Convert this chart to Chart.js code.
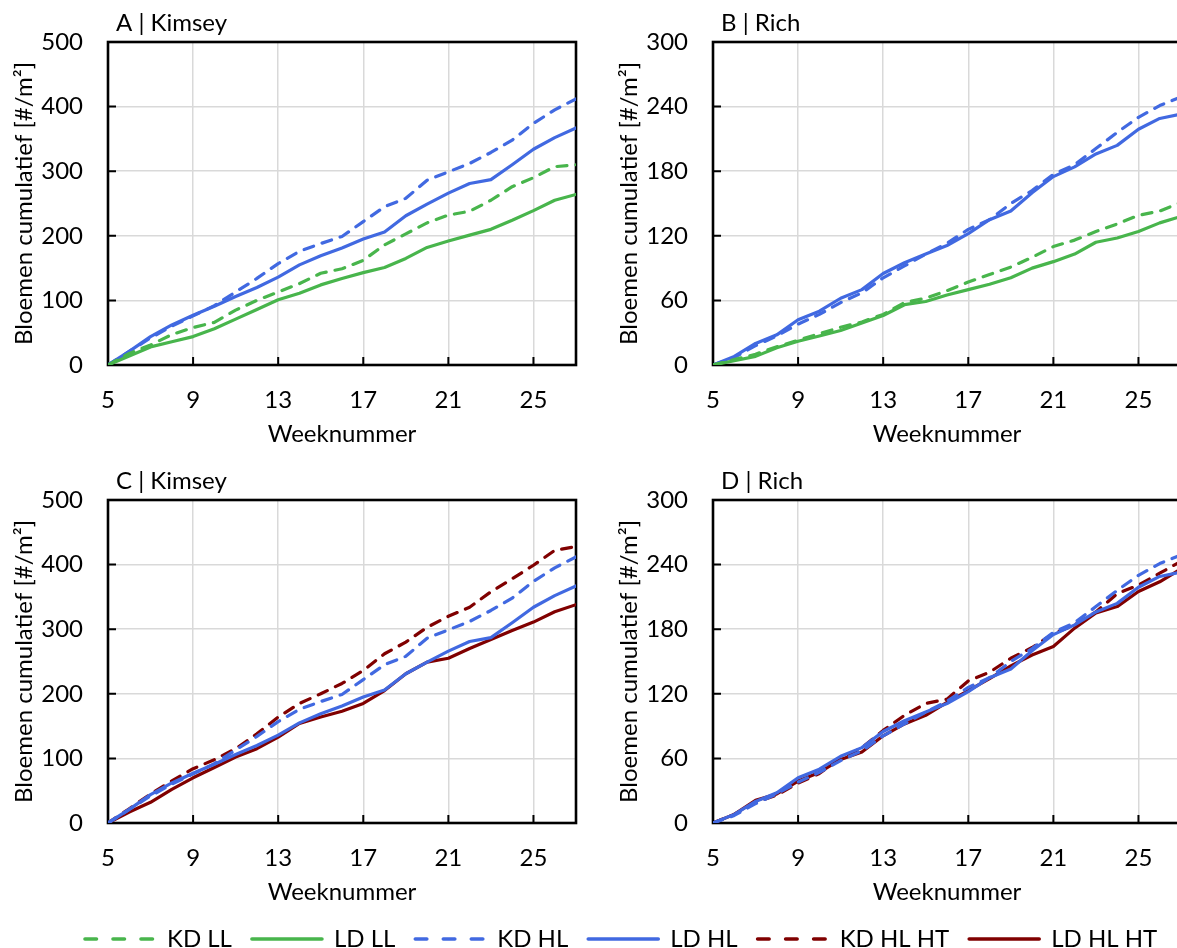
<!DOCTYPE html>
<html>
<head>
<meta charset="utf-8">
<script src="https://cdn.jsdelivr.net/npm/chart.js@4.4.1/dist/chart.umd.min.js"></script>
<style>
  html, body { margin: 0; padding: 0; background: #fff; overflow: hidden; width: 1177px; height: 948px; }
  canvas { position: absolute; }
</style>
</head>
<body>
<canvas id="pA" width="600" height="458" style="left:0;top:0"></canvas>
<canvas id="pB" width="600" height="458" style="left:605px;top:0"></canvas>
<canvas id="pC" width="600" height="458" style="left:0;top:458px"></canvas>
<canvas id="pD" width="600" height="458" style="left:605px;top:458px"></canvas>
<canvas id="legend" width="1300" height="100" style="left:65px;top:907px"></canvas>
<script>
// Week numbers and axis ticks
const weeks = [5, 6, 7, 8, 9, 10, 11, 12, 13, 14, 15, 16, 17, 18, 19, 20, 21, 22, 23, 24, 25, 26, 27];
const weekTicks = [5, 9, 13, 17, 21, 25];
const kimseyTicks = [0, 100, 200, 300, 400, 500];
const richTicks = [0, 60, 120, 180, 240, 300];

// Kimsey: cumulative flowers per m²
const kimseyKD_LL   = [0, 18, 31, 47, 58, 66, 85, 100, 113, 126, 142, 149, 162, 186, 203, 220, 232, 238, 255, 276, 290, 307, 310];
const kimseyLD_LL   = [0, 14, 28, 36, 44, 56, 71, 86, 101, 111, 124, 134, 143, 151, 165, 182, 192, 201, 210, 224, 239, 255, 264];
const kimseyKD_HL   = [0, 21, 42, 60, 76, 92, 113, 134, 157, 176, 188, 199, 222, 245, 258, 286, 299, 312, 329, 348, 374, 395, 412];
const kimseyLD_HL   = [0, 21, 44, 62, 77, 91, 106, 120, 136, 155, 169, 181, 195, 206, 231, 249, 266, 281, 287, 310, 334, 352, 367];
const kimseyKD_HLHT = [0, 22, 45, 65, 84, 98, 115, 138, 164, 185, 200, 216, 236, 262, 280, 303, 320, 334, 358, 378, 399, 422, 428];
const kimseyLD_HLHT = [0, 17, 32, 52, 70, 86, 102, 115, 133, 154, 164, 173, 185, 205, 231, 249, 255, 270, 284, 298, 311, 327, 338];

// Rich: cumulative flowers per m²
const richKD_LL   = [0, 5, 10, 17, 23, 29, 35, 40, 47, 58, 62, 69, 77, 84, 91, 100, 110, 116, 124, 131, 139, 143, 151];
const richLD_LL   = [0, 4, 8, 16, 22, 27, 32, 39, 46, 56, 59, 65, 70, 75, 81, 90, 96, 103, 114, 118, 124, 132, 138];
const richKD_HL   = [0, 7, 18, 27, 38, 47, 58, 67, 81, 92, 103, 113, 126, 135, 150, 162, 177, 186, 201, 216, 230, 241, 249];
const richLD_HL   = [0, 8, 20, 28, 42, 50, 62, 70, 85, 95, 103, 111, 122, 135, 143, 160, 175, 184, 196, 204, 219, 229, 233];
const richKD_HLHT = [0, 8, 19, 26, 37, 46, 60, 70, 86, 100, 111, 115, 132, 140, 153, 163, 176, 184, 196, 213, 221, 232, 243];
const richLD_HLHT = [0, 8, 21, 27, 39, 47, 59, 66, 81, 92, 100, 112, 123, 134, 146, 156, 164, 181, 195, 201, 215, 224, 236];

const GREEN = '#48b54c';
const BLUE = '#4169e1';
const RED = '#800000';
const DASH = [10, 9];
const FONT = { family: 'Lato, "Open Sans", sans-serif', size: 24 };

Chart.defaults.font.family = FONT.family;
Chart.defaults.font.size = FONT.size;
Chart.defaults.color = '#000';

const seriesStyle = {
  'KD LL':    { color: GREEN, dashed: true },
  'LD LL':    { color: GREEN, dashed: false },
  'KD HL':    { color: BLUE,  dashed: true },
  'LD HL':    { color: BLUE,  dashed: false },
  'KD HL HT': { color: RED,   dashed: true },
  'LD HL HT': { color: RED,   dashed: false }
};

function series(label, values) {
  const s = seriesStyle[label];
  return {
    label,
    data: weeks.map((w, i) => ({ x: w, y: values[i] })),
    borderColor: s.color,
    backgroundColor: s.color,
    borderWidth: 3.2,
    borderDash: s.dashed ? DASH : [],
    borderCapStyle: 'round',
    borderJoinStyle: 'round',
    pointRadius: 0,
    tension: 0,
    fill: false
  };
}

// Plot frame, inward tick marks and the panel caption
const framePlugin = {
  id: 'frame',
  beforeDatasetsDraw(chart) {
    const { ctx, chartArea: a, scales: { x, y } } = chart;
    ctx.save();
    ctx.strokeStyle = '#000';
    ctx.lineWidth = 2;
    ctx.beginPath();
    y.ticks.forEach(t => {
      const py = y.getPixelForValue(t.value);
      ctx.moveTo(a.left, py); ctx.lineTo(a.left + 8, py);
    });
    x.ticks.forEach(t => {
      const px = x.getPixelForValue(t.value);
      ctx.moveTo(px, a.bottom); ctx.lineTo(px, a.bottom - 8);
    });
    ctx.stroke();
    ctx.lineWidth = 2.6;
    ctx.strokeRect(a.left, a.top, a.right - a.left, a.bottom - a.top);
    ctx.restore();
  },
  afterDraw(chart, args, opts) {
    const { ctx, chartArea: a } = chart;
    ctx.save();
    ctx.font = `${FONT.size}px ${FONT.family}`;
    ctx.fillStyle = '#000';
    ctx.textBaseline = 'alphabetic';
    ctx.textAlign = 'left';
    ctx.fillText(opts.text, a.left + 8, a.top - 11);
    ctx.restore();
  }
};

function panel(id, caption, yTicks, datasets) {
  new Chart(document.getElementById(id), {
    type: 'line',
    data: { datasets },
    plugins: [framePlugin],
    options: {
      responsive: false,
      animation: false,
      layout: { padding: { top: 42, right: 24, bottom: 0, left: 0 } },
      plugins: {
        legend: { display: false },
        tooltip: { enabled: false },
        frame: { text: caption }
      },
      scales: {
        x: {
          type: 'linear',
          min: weekTicks[0],
          max: weeks[weeks.length - 1],
          afterBuildTicks: s => { s.ticks = weekTicks.map(v => ({ value: v })); },
          afterFit: s => { s.height = 93; },
          grid: { color: '#d9d9d9', lineWidth: 1.5, drawTicks: false },
          border: { display: false },
          ticks: { padding: 21, maxRotation: 0, autoSkip: false, color: '#000' },
          title: { display: true, text: 'Weeknummer', color: '#000', padding: { top: 0, bottom: 9 } }
        },
        y: {
          type: 'linear',
          min: yTicks[0],
          max: yTicks[yTicks.length - 1],
          afterBuildTicks: s => { s.ticks = yTicks.map(v => ({ value: v })); },
          afterFit: s => { s.width = 108; },
          grid: { color: '#d9d9d9', lineWidth: 1.5, drawTicks: false },
          border: { display: false },
          ticks: { padding: 25, color: '#000' },
          title: { display: true, text: 'Bloemen cumulatief [#/m²]', color: '#000', padding: { top: 10, bottom: 0 } }
        }
      }
    }
  });
}

panel('pA', 'A | Kimsey', kimseyTicks, [
  series('KD LL', kimseyKD_LL),
  series('LD LL', kimseyLD_LL),
  series('KD HL', kimseyKD_HL),
  series('LD HL', kimseyLD_HL)
]);
panel('pB', 'B | Rich', richTicks, [
  series('KD LL', richKD_LL),
  series('LD LL', richLD_LL),
  series('KD HL', richKD_HL),
  series('LD HL', richLD_HL)
]);
panel('pC', 'C | Kimsey', kimseyTicks, [
  series('KD HL', kimseyKD_HL),
  series('LD HL', kimseyLD_HL),
  series('KD HL HT', kimseyKD_HLHT),
  series('LD HL HT', kimseyLD_HLHT)
]);
panel('pD', 'D | Rich', richTicks, [
  series('KD HL', richKD_HL),
  series('LD HL', richLD_HL),
  series('KD HL HT', richKD_HLHT),
  series('LD HL HT', richLD_HLHT)
]);

// Shared legend for all four panels
const legendLabels = ['KD LL', 'LD LL', 'KD HL', 'LD HL', 'KD HL HT', 'LD HL HT'];
new Chart(document.getElementById('legend'), {
  type: 'line',
  data: { datasets: legendLabels.map(l => ({ label: l, data: [] })) },
  options: {
    responsive: false,
    animation: false,
    layout: { padding: 0 },
    scales: { x: { display: false }, y: { display: false } },
    plugins: {
      tooltip: { enabled: false },
      legend: {
        display: true,
        position: 'top',
        align: 'start',
        labels: {
          usePointStyle: true,
          pointStyleWidth: 70,
          padding: 20,
          color: '#000',
          font: FONT,
          generateLabels: () => legendLabels.map((l, i) => {
            const s = seriesStyle[l];
            return {
              text: l,
              datasetIndex: i,
              pointStyle: 'line',
              strokeStyle: s.color,
              fillStyle: s.color,
              lineWidth: 3.6,
              lineCap: 'round',
              lineDash: s.dashed ? [11.5, 16.5] : [],
              fontColor: '#000',
              hidden: false
            };
          })
        }
      }
    }
  }
});
</script>
</body>
</html>
